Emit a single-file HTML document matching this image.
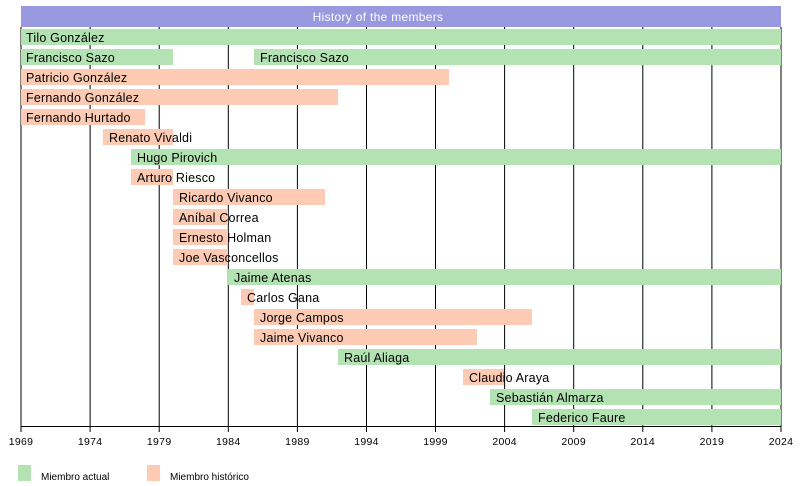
<!DOCTYPE html>
<html><head><meta charset="utf-8"><style>
html,body{margin:0;padding:0;background:#fff;}
svg{display:block;font-family:"Liberation Sans",sans-serif;}
</style></head><body>
<svg width="800" height="486" viewBox="0 0 800 486" xmlns="http://www.w3.org/2000/svg">
<rect x="0" y="0" width="800" height="486" fill="#fff"/>
<g stroke="#000" stroke-width="1">
<line x1="21" y1="27" x2="21" y2="432"/>
<line x1="90.1" y1="27" x2="90.1" y2="432"/>
<line x1="159.2" y1="27" x2="159.2" y2="432"/>
<line x1="228.3" y1="27" x2="228.3" y2="432"/>
<line x1="297.4" y1="27" x2="297.4" y2="432"/>
<line x1="366.5" y1="27" x2="366.5" y2="432"/>
<line x1="435.5" y1="27" x2="435.5" y2="432"/>
<line x1="504.6" y1="27" x2="504.6" y2="432"/>
<line x1="573.7" y1="27" x2="573.7" y2="432"/>
<line x1="642.8" y1="27" x2="642.8" y2="432"/>
<line x1="711.9" y1="27" x2="711.9" y2="432"/>
<line x1="781" y1="27" x2="781" y2="432"/>
<line x1="21" y1="426.5" x2="781" y2="426.5"/>
</g>
<rect x="21" y="6" width="760" height="21" fill="#9999e0"/>
<text x="378" y="21" fill="#fff" font-size="12" letter-spacing="0.3" text-anchor="middle">History of the members</text>
<g>
<rect x="21" y="29" width="760" height="16" fill="#b3e3b3"/>
<rect x="21" y="49" width="152" height="16" fill="#b3e3b3"/>
<rect x="254" y="49" width="527" height="16" fill="#b3e3b3"/>
<rect x="21" y="69" width="428" height="16" fill="#fdcbb3"/>
<rect x="21" y="89" width="317" height="16" fill="#fdcbb3"/>
<rect x="21" y="109" width="124" height="16" fill="#fdcbb3"/>
<rect x="103" y="129" width="70" height="16" fill="#fdcbb3"/>
<rect x="131" y="149" width="650" height="16" fill="#b3e3b3"/>
<rect x="131" y="169" width="42" height="16" fill="#fdcbb3"/>
<rect x="173" y="189" width="152" height="16" fill="#fdcbb3"/>
<rect x="173" y="209" width="55" height="16" fill="#fdcbb3"/>
<rect x="173" y="229" width="55" height="16" fill="#fdcbb3"/>
<rect x="173" y="249" width="55" height="16" fill="#fdcbb3"/>
<rect x="228" y="269" width="553" height="16" fill="#b3e3b3"/>
<rect x="241" y="289" width="13" height="16" fill="#fdcbb3"/>
<rect x="254" y="309" width="278" height="16" fill="#fdcbb3"/>
<rect x="254" y="329" width="223" height="16" fill="#fdcbb3"/>
<rect x="338" y="349" width="443" height="16" fill="#b3e3b3"/>
<rect x="463" y="369" width="41" height="16" fill="#fdcbb3"/>
<rect x="490" y="389" width="291" height="16" fill="#b3e3b3"/>
<rect x="532" y="409" width="249" height="16" fill="#b3e3b3"/>
</g>
<g font-size="12.5" letter-spacing="0.2" fill="#000">
<text x="26" y="42">Tilo González</text>
<text x="26" y="62">Francisco Sazo</text>
<text x="260" y="62">Francisco Sazo</text>
<text x="26" y="82">Patricio González</text>
<text x="26" y="102">Fernando González</text>
<text x="26" y="122">Fernando Hurtado</text>
<text x="109" y="142">Renato Vivaldi</text>
<text x="137" y="162">Hugo Pirovich</text>
<text x="137" y="182">Arturo Riesco</text>
<text x="179" y="202">Ricardo Vivanco</text>
<text x="179" y="222">Aníbal Correa</text>
<text x="179" y="242">Ernesto Holman</text>
<text x="179" y="262">Joe Vasconcellos</text>
<text x="234" y="282">Jaime Atenas</text>
<text x="247" y="302">Carlos Gana</text>
<text x="260" y="322">Jorge Campos</text>
<text x="260" y="342">Jaime Vivanco</text>
<text x="344" y="362">Raúl Aliaga</text>
<text x="469" y="382">Claudio Araya</text>
<text x="496" y="402">Sebastián Almarza</text>
<text x="538" y="422">Federico Faure</text>
</g>
<g font-size="10.5" letter-spacing="0.3" fill="#000" text-anchor="middle">
<text x="21" y="445">1969</text>
<text x="90.1" y="445">1974</text>
<text x="159.2" y="445">1979</text>
<text x="228.3" y="445">1984</text>
<text x="297.4" y="445">1989</text>
<text x="366.5" y="445">1994</text>
<text x="435.5" y="445">1999</text>
<text x="504.6" y="445">2004</text>
<text x="573.7" y="445">2009</text>
<text x="642.8" y="445">2014</text>
<text x="711.9" y="445">2019</text>
<text x="781" y="445">2024</text>
</g>
<rect x="18" y="465" width="13" height="16" fill="#b3e3b3"/>
<text x="41" y="480" font-size="10" fill="#000">Miembro actual</text>
<rect x="147" y="465" width="13" height="16" fill="#fdcbb3"/>
<text x="170" y="480" font-size="10" fill="#000">Miembro histórico</text>
</svg>
</body></html>
